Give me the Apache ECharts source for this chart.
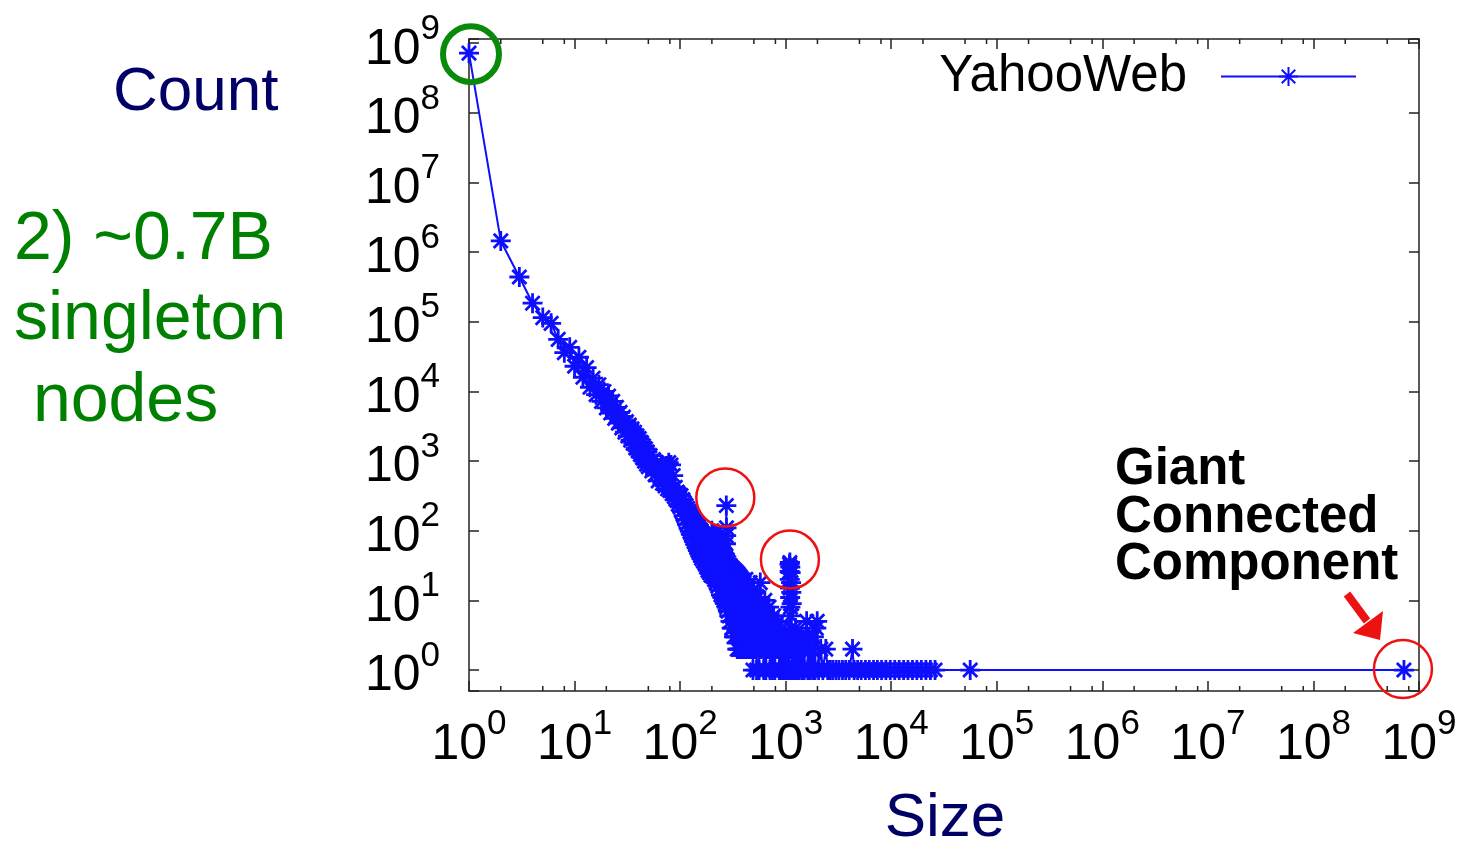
<!DOCTYPE html>
<html><head><meta charset="utf-8">
<script src="https://cdn.jsdelivr.net/npm/echarts@6/dist/echarts.min.js"></script>
<style>html,body{margin:0;padding:0;background:#fff}#c{width:1461px;height:845px}</style>
</head><body><div id="c"></div>
<script>
// ---------------- data ----------------
const seriesName = 'YahooWeb';
const sizes = [
  1,2,3,4,5,6,7,8,9,10,11,12,13,14,15,16,17,18,19,20,21,22,23,24,25,26,27,28,29,30,
  31,32,33,34,35,36,37,38,39,40,41,42,43,44,45,46,47,48,49,50,52,54,56,58,60,
  62,64,66,68,70,72,74,76,78,80,82,84,86,88,90,92,94,96,98,
  100,102,104,106,108,110,112,114,116,118,120,122,124,126,128,130,132,134,136,138,140,142,144,146,148,150,
  152,154,156,158,160,163,166,169,172,175,178,181,184,187,190,193,196,
  200,204,208,212,216,220,224,228,232,236,240,244,248,252,256,260,264,268,272,273,274,275,276,280,284,288,292,296,
  300,304,308,312,316,320,324,328,332,336,340,344,348,352,356,360,364,368,372,376,380,384,388,392,396,
  400,410,420,430,440,450,460,470,480,490,500,510,520,530,545,560,575,590,605,620,635,650,665,680,695,710,730,750,770,790,
  810,830,850,870,890,910,930,950,970,990,1010,1030,1050,1070,
  1085,1088,1091,1094,1097,1100,1103,1106,1109,1112,1115,1118,1121,1124,1127,1130,1135,1140,1150,
  1180,1210,1240,1270,1300,1340,1380,1420,1460,1500,1550,1580,1620,1660,1700,1750,1800,1850,1900,1950,1990,2050,2150,2250,2400,2500,
  2650,2800,3000,3200,3450,3700,4000,4300,4450,4800,5200,5700,6200,6800,7400,8100,8900,9800,10800,11900,
  13100,14400,15900,17500,19300,21300,23500,26000,56000,720000000
];
const counts = [
  720000000,1450000,440000,185000,115000,95000,56000,36000,43000,23000,31000,16000,22000,11500,15500,9000,12500,7200,10000,5800,8600,4900,7200,4100,5900,3500,5000,3000,4300,2600,
  3700,2300,3300,2000,2900,1800,2600,1550,2300,1400,2100,1250,1850,1120,1650,1000,1500,900,1350,830,1200,720,1050,640,900,
  520,780,900,480,720,440,850,400,950,380,880,340,620,310,420,280,360,240,330,
  220,320,190,280,165,250,145,230,125,210,110,190,98,175,88,160,78,150,70,140,63,130,57,120,52,115,
  48,105,44,100,40,92,37,85,34,78,30,72,27,66,25,60,23,
  100,22,90,20,82,18,75,16,68,14,62,12,56,11,50,10,46,9,65,85,230,110,8,38,7,35,6,32,
  5,30,4,29,4,28,3,27,3,26,3,25,2,24,2,23,2,22,2,21,2,20,2,19,2,
  18,2,20,2,12,2,18,2,9,1,14,2,7,1,11,1,18,2,8,1,10,1,6,2,8,1,5,1,6,1,
  4,2,5,1,3,1,4,1,3,1,2,1,3,1,
  2,33,26,20,35,15,11,30,8,6,25,4,3,18,2,13,1,9,1,
  3,1,4,1,2,1,3,1,2,1,3,5,1,3,1,2,1,3,1,4,5,1,2,1,2,1,
  1,1,1,1,1,1,1,2,1,1,1,1,1,1,1,1,1,1,1,1,
  1,1,1,1,1,1,1,1,1,1
];
// highlighted points (annotation circles)
const highlightSizes  = [1, 274, 1097, 720000000];
const highlightCounts = [720000000, 230, 35, 1];
// axis ticks
const xTickExponents = [0,1,2,3,4,5,6,7,8,9];
const yTickExponents = [0,1,2,3,4,5,6,7,8,9];
const minorMantissas = [2,5,8];
const xMin = 1, xMax = 1e9, yMin = 0.5, yMax = 1.15e9;

// ---------------- chart ----------------
const FONT = '"Liberation Sans", Arial, Helvetica, sans-serif';
const BLUE = '#0f0fff';
const AX = '#222222';
const points = sizes.map((s, i) => [s, counts[i]]);
const minorTickValues = [];
xTickExponents.slice(0, -1).forEach(e => minorMantissas.forEach(m => minorTickValues.push([m * Math.pow(10, e), 1])));

const asterisk = 'path://M0,-10L0,10M-10,0L10,0M-7.07,-7.07L7.07,7.07M-7.07,7.07L7.07,-7.07';

function powLabel(v) {
  const l = Math.log10(v);
  const e = Math.round(l);
  if (Math.abs(l - e) > 1e-6) return '';
  return '{b|10}{s|' + e + '}';
}
const rich = {
  b: { fontSize: 50, lineHeight: 50, verticalAlign: 'bottom', fontFamily: FONT, color: '#000' },
  s: { fontSize: 35, padding: [0, 0, 28, 0], verticalAlign: 'top', fontFamily: FONT, color: '#000' }
};
const axisCommon = {
  type: 'log', logBase: 10, splitNumber: 10,
  axisLine: { show: true, onZero: false, lineStyle: { color: AX, width: 1.5 } },
  axisTick: { show: true, inside: true, length: 10, lineStyle: { color: AX, width: 1.5 } },
  splitLine: { show: false }, minorTick: { show: false }
};

const chart = echarts.init(document.getElementById('c'), null, { renderer: 'canvas' });
chart.setOption({
  animation: false,
  backgroundColor: '#ffffff',
  grid: { left: 469, right: 42, top: 39, bottom: 154, containLabel: false },
  xAxis: [
    Object.assign({}, axisCommon, { position: 'bottom', min: xMin, max: xMax,
      axisLabel: { show: true, margin: 16, formatter: powLabel, rich: rich, showMinLabel: true, showMaxLabel: true } }),
    Object.assign({}, axisCommon, { position: 'top', min: xMin, max: xMax, axisLabel: { show: false } })
  ],
  yAxis: [
    Object.assign({}, axisCommon, { position: 'left', min: yMin, max: yMax,
      axisLabel: { show: true, margin: 29, formatter: powLabel, rich: rich, align: 'right' } }),
    Object.assign({}, axisCommon, { position: 'right', min: yMin, max: yMax, axisLabel: { show: false } })
  ],
  legend: {
    data: [seriesName], right: 104, top: 51, padding: 0, align: 'right',
    itemWidth: 135, itemHeight: 24, selectedMode: false,
    textStyle: { fontSize: 51, fontFamily: FONT, color: '#000', padding: [0, 29, 0, 0] }
  },
  series: [
    {
      name: seriesName, type: 'line', data: points, xAxisIndex: 0, yAxisIndex: 0,
      symbol: asterisk, symbolSize: 20, showAllSymbol: true, clip: false,
      lineStyle: { color: BLUE, width: 2 },
      itemStyle: { color: BLUE, borderColor: BLUE, borderWidth: 2.8 },
      emphasis: { disabled: true },
      markPoint: {
        silent: true, label: { show: false },
        data: [
          { coord: [highlightSizes[0], highlightCounts[0]], symbol: 'circle', symbolSize: 56, symbolOffset: [2, 1],
            itemStyle: { color: 'rgba(0,0,0,0)', borderColor: '#0a8a0a', borderWidth: 6 } },
          { coord: [highlightSizes[1], highlightCounts[1]], symbol: 'circle', symbolSize: 58, symbolOffset: [-1, -8],
            itemStyle: { color: 'rgba(0,0,0,0)', borderColor: '#ee1111', borderWidth: 2.5 } },
          { coord: [highlightSizes[2], highlightCounts[2]], symbol: 'circle', symbolSize: 58, symbolOffset: [0, -3],
            itemStyle: { color: 'rgba(0,0,0,0)', borderColor: '#ee1111', borderWidth: 2.5 } },
          { coord: [highlightSizes[3], highlightCounts[3]], symbol: 'circle', symbolSize: 58, symbolOffset: [-1, -1],
            itemStyle: { color: 'rgba(0,0,0,0)', borderColor: '#ee1111', borderWidth: 2.5 } }
        ]
      }
    },
    {
      name: 'minorTicks', type: 'custom', data: minorTickValues, silent: true, clip: false,
      xAxisIndex: 0, yAxisIndex: 0,
      renderItem: function (params, api) {
        const x = api.value(0);
        const b = api.coord([x, yMin]);
        const t = api.coord([x, yMax]);
        const st = { stroke: AX, lineWidth: 1.5 };
        return { type: 'group', children: [
          { type: 'line', shape: { x1: b[0], y1: b[1], x2: b[0], y2: b[1] - 5 }, style: st },
          { type: 'line', shape: { x1: t[0], y1: t[1], x2: t[0], y2: t[1] + 5 }, style: st }
        ] };
      }
    }
  ],
  graphic: [
    { type: 'text', left: 113, top: 62, style: { text: 'Count', font: '62px ' + FONT, fill: '#000066' } },
    { type: 'text', x: 14, y: 240, style: { text: '2) ~0.7B', font: '68px ' + FONT, fill: '#008000', align: 'left', verticalAlign: 'middle' } },
    { type: 'text', x: 14, y: 320, style: { text: 'singleton', font: '68px ' + FONT, fill: '#008000', align: 'left', verticalAlign: 'middle' } },
    { type: 'text', x: 14, y: 402, style: { text: ' nodes', font: '68px ' + FONT, fill: '#008000', align: 'left', verticalAlign: 'middle' } },
    { type: 'text', x: 945, y: 819, style: { text: 'Size', font: '62px ' + FONT, fill: '#000066', align: 'center', verticalAlign: 'middle' } },
    { type: 'text', x: 1115, y: 470, style: { text: 'Giant', font: 'bold 51px ' + FONT, fill: '#000', align: 'left', verticalAlign: 'middle' } },
    { type: 'text', x: 1115, y: 518, style: { text: 'Connected', font: 'bold 51px ' + FONT, fill: '#000', align: 'left', verticalAlign: 'middle' } },
    { type: 'text', x: 1115, y: 565, style: { text: 'Component', font: 'bold 51px ' + FONT, fill: '#000', align: 'left', verticalAlign: 'middle' } },
    { type: 'line', shape: { x1: 1347, y1: 594, x2: 1367, y2: 621 }, style: { stroke: '#ee1111', lineWidth: 8 } },
    { type: 'polygon', shape: { points: [[1380, 640], [1383, 611], [1353, 633]] }, style: { fill: '#ee1111' } }
  ]
});
</script>
</body></html>
